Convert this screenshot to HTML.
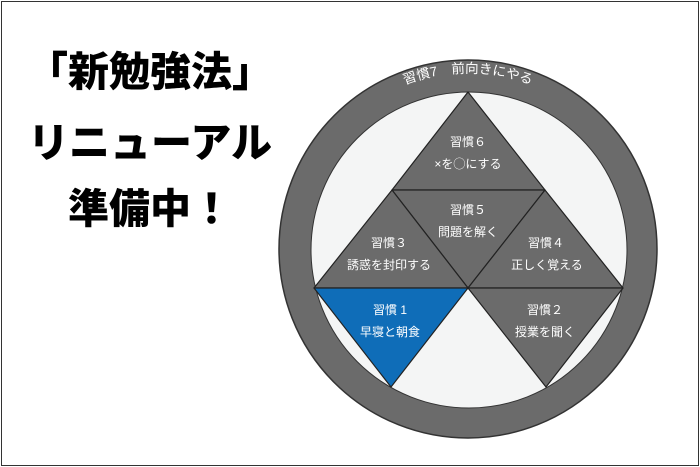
<!DOCTYPE html>
<html><head><meta charset="utf-8"><style>
html,body{margin:0;padding:0;background:#fff}
.t{position:absolute;left:0;width:300px;text-align:center;font-family:"Noto Sans CJK JP","Liberation Sans",sans-serif;font-weight:900;font-size:41px;color:#000;line-height:1}
</style></head><body>
<div style="position:relative;width:700px;height:467px;overflow:hidden">
<div style="position:absolute;left:1px;top:1px;width:696px;height:463px;border:1px solid #333"></div>
<div class="t" style="top:48px">「新勉強法」</div>
<div class="t" style="top:119px">リニューアル</div>
<div class="t" style="top:185px">準備中！</div>
<svg style="position:absolute;left:0;top:0" width="700" height="467" font-family="Liberation Sans, Noto Sans CJK JP, sans-serif">
<circle cx="468" cy="249" r="189" fill="#6b6b6b" stroke="#333" stroke-width="1.5"/>
<circle cx="469" cy="250" r="158" fill="#f4f5f5" stroke="#333" stroke-width="1"/>
<defs><path id="arc" d="M 292 249 A 176 176 0 0 1 644 249"/></defs>
<text font-size="13.5" fill="#fff"><textPath href="#arc" startOffset="50%" text-anchor="middle">習慣7　前向きにやる</textPath></text>
<g stroke="#222" stroke-width="1.2" stroke-linejoin="round">
<polygon points="468,92 545,190 392,190" fill="#6b6b6b"/>
<polygon points="392,190 545,190 468,288" fill="#6b6b6b"/>
<polygon points="392,190 468,288 314,288" fill="#6b6b6b"/>
<polygon points="545,190 623,288 468,288" fill="#6b6b6b"/>
<polygon points="314,288 468,288 391,387" fill="#0f6db8"/>
<polygon points="468,288 623,288 546,387" fill="#6b6b6b"/>
</g>
<g font-size="12" fill="#fff" text-anchor="middle">
<text x="468" y="146">習慣６</text><text x="468" y="168">×を◯にする</text>
<text x="468" y="214">習慣５</text><text x="468" y="236">問題を解く</text>
<text x="389" y="247">習慣３</text><text x="389" y="269">誘惑を封印する</text>
<text x="546" y="247">習慣４</text><text x="547" y="269">正しく覚える</text>
<text x="390" y="314">習慣 1</text><text x="390" y="336">早寝と朝食</text>
<text x="545" y="314">習慣２</text><text x="545" y="336">授業を聞く</text>
</g>
</svg>
</div>
</body></html>
